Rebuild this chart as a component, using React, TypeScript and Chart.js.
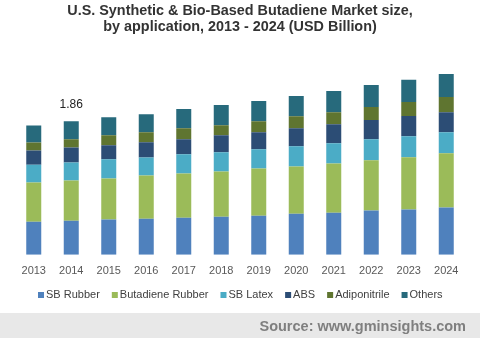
import React, { useEffect, useRef } from "react";
import { Chart, registerables } from "chart.js";

Chart.register(...registerables);

const years = ["2013", "2014", "2015", "2016", "2017", "2018", "2019", "2020", "2021", "2022", "2023", "2024"];
const sbRubber = [0.46, 0.475, 0.49, 0.503, 0.517, 0.531, 0.545, 0.573, 0.587, 0.615, 0.63, 0.657];
const butadieneRubber = [0.545, 0.56, 0.573, 0.601, 0.615, 0.629, 0.657, 0.657, 0.685, 0.7, 0.727, 0.755];
const sbLatex = [0.25, 0.25, 0.266, 0.252, 0.266, 0.266, 0.266, 0.28, 0.28, 0.294, 0.294, 0.294];
const abs = [0.196, 0.21, 0.196, 0.21, 0.21, 0.238, 0.238, 0.252, 0.266, 0.266, 0.28, 0.28];
const adiponitrile = [0.112, 0.112, 0.14, 0.14, 0.154, 0.14, 0.154, 0.168, 0.168, 0.182, 0.196, 0.21];
const others = [0.238, 0.253, 0.25, 0.252, 0.266, 0.28, 0.28, 0.28, 0.294, 0.308, 0.308, 0.32];
const annotationIndex = 1;
const annotationText = "1.86";

const FONT = "'Liberation Sans', Arial, sans-serif";

const overlayPlugin = {
  id: "overlay",
  afterDraw(chart: any) {
    const ctx = chart.ctx;
    const w = chart.width;
    ctx.save();
    // title
    ctx.fillStyle = "#333333";
    ctx.font = `bold 14.4px ${FONT}`;
    ctx.textAlign = "center";
    ctx.textBaseline = "middle";
    ctx.fillText("U.S. Synthetic & Bio-Based Butadiene Market size,", w / 2, 11);
    ctx.fillText("by application, 2013 - 2024 (USD Billion)", w / 2, 27);
    // annotation
    const meta = chart.getDatasetMeta(chart.data.datasets.length - 1);
    const bar = meta.data[annotationIndex];
    if (bar) {
      ctx.font = `12px ${FONT}`;
      ctx.fillStyle = "#222222";
      ctx.fillText(annotationText, bar.x, bar.y - 16);
    }
    // legend
    ctx.font = `11px ${FONT}`;
    ctx.textAlign = "left";
    const ds = chart.data.datasets;
    const box = 6, gapBox = 2, gapItem = 12;
    const widths = ds.map((d: any) => ctx.measureText(d.label).width);
    const total = widths.reduce((a: number, b: number) => a + b, 0) + ds.length * (box + gapBox) + (ds.length - 1) * gapItem;
    let x = Math.round((w - total) / 2);
    const ly = 295;
    ds.forEach((d: any, i: number) => {
      ctx.fillStyle = d.backgroundColor;
      ctx.fillRect(x, ly - 3, box, box);
      ctx.fillStyle = "#404040";
      ctx.fillText(d.label, x + box + gapBox, ly);
      x += box + gapBox + widths[i] + gapItem;
    });
    // source band
    ctx.fillStyle = "#e8e8e8";
    ctx.fillRect(0, 313, w, chart.height - 313);
    ctx.fillStyle = "#7f7f7f";
    ctx.font = `bold 14.5px ${FONT}`;
    ctx.textAlign = "right";
    ctx.fillText("Source: www.gminsights.com", 466, 327);
    ctx.restore();
  },
};

export default function App() {
  const ref = useRef<HTMLCanvasElement | null>(null);
  useEffect(() => {
    document.body.style.margin = "0";
    const mk = (label: string, data: number[], color: string) => ({
      label,
      data,
      backgroundColor: color,
      borderWidth: 0,
      barPercentage: 0.4,
      categoryPercentage: 1,
    });
    const chart = new Chart(ref.current as HTMLCanvasElement, {
      type: "bar",
      data: {
        labels: years,
        datasets: [
          mk("SB Rubber", sbRubber, "#4f81bd"),
          mk("Butadiene Rubber", butadieneRubber, "#9bbb59"),
          mk("SB Latex", sbLatex, "#4bacc6"),
          mk("ABS", abs, "#2c4d75"),
          mk("Adiponitrile", adiponitrile, "#5f7530"),
          mk("Others", others, "#276a7c"),
        ],
      },
      options: {
        animation: false,
        responsive: false,
        maintainAspectRatio: false,
        layout: { padding: { top: 40, left: 15, right: 15, bottom: 50 } },
        plugins: {
          title: { display: false },
          tooltip: { enabled: false },
          legend: { display: false },
        },
        scales: {
          x: {
            stacked: true,
            grid: { display: false, drawTicks: false },
            border: { display: false },
            ticks: { color: "#595959", font: { size: 11, family: FONT }, padding: 10 },
          },
          y: {
            stacked: true,
            display: false,
            min: 0,
            max: 2.99,
          },
        },
      },
      plugins: [overlayPlugin],
    });
    return () => chart.destroy();
  }, []);
  return (
    <div style={{ position: "relative", width: 480, height: 338 }}>
      <canvas ref={ref} width={480} height={338} style={{ display: "block" }} />
    </div>
  );
}
